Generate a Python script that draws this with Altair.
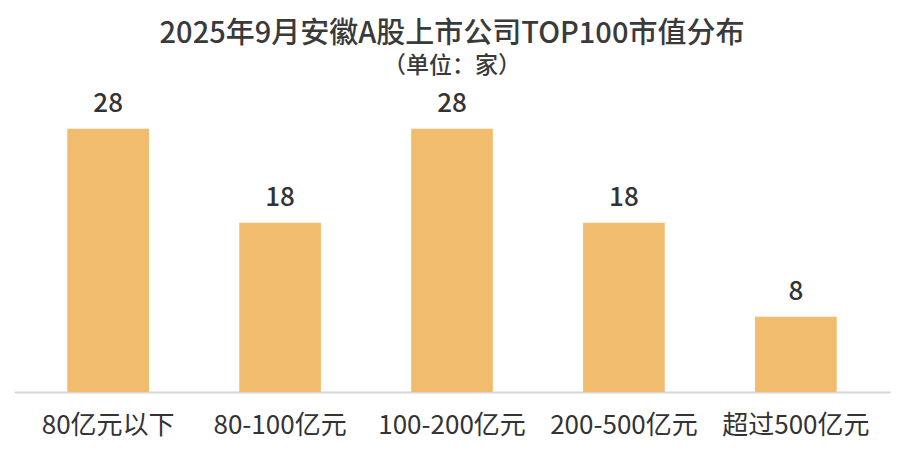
import altair as alt
import pandas as pd

categories = ["80亿元以下", "80-100亿元", "100-200亿元", "200-500亿元", "超过500亿元"]
counts = [28, 18, 28, 18, 8]

df = pd.DataFrame({"cat": categories, "n": counts})

FONT = "Noto Sans CJK SC"

base = alt.Chart(df).encode(
    x=alt.X("cat:N", sort=categories,
            scale=alt.Scale(paddingInner=0.525, paddingOuter=0.31),
            axis=alt.Axis(title=None, labelAngle=0, labelFontSize=26, labelColor="#333333",
                          labelFont=FONT, labelPadding=20, ticks=False,
                          domainColor="#d6d6d6", domainWidth=2)),
    y=alt.Y("n:Q", scale=alt.Scale(domain=[0, 30], nice=False), axis=None),
)

bars = base.mark_bar(color="#F2BC6F")
labels = base.mark_text(dy=-17, baseline="alphabetic", fontSize=26, font=FONT,
                        fontWeight=500, color="#333333").encode(text="n:Q")

chart = (bars + labels).properties(
    width=876, height=282,
    title=alt.TitleParams(
        text="2025年9月安徽A股上市公司TOP100市值分布",
        subtitle="（单位：家）",
        anchor="middle", frame="group", orient="top",
        font=FONT, fontSize=29, fontWeight=500, color="#3a3a3a",
        subtitleFont=FONT, subtitleFontSize=23, subtitleFontWeight=500,
        subtitleColor="#3a3a3a", subtitlePadding=6, offset=13,
    ),
    autosize=alt.AutoSizeParams(type="none"),
    padding={"left": 6, "top": 102, "right": 10, "bottom": 50},
    background="white",
).configure_view(strokeWidth=0, stroke="transparent")

chart.save("out.html", embed_options={"renderer": "svg", "actions": False})
